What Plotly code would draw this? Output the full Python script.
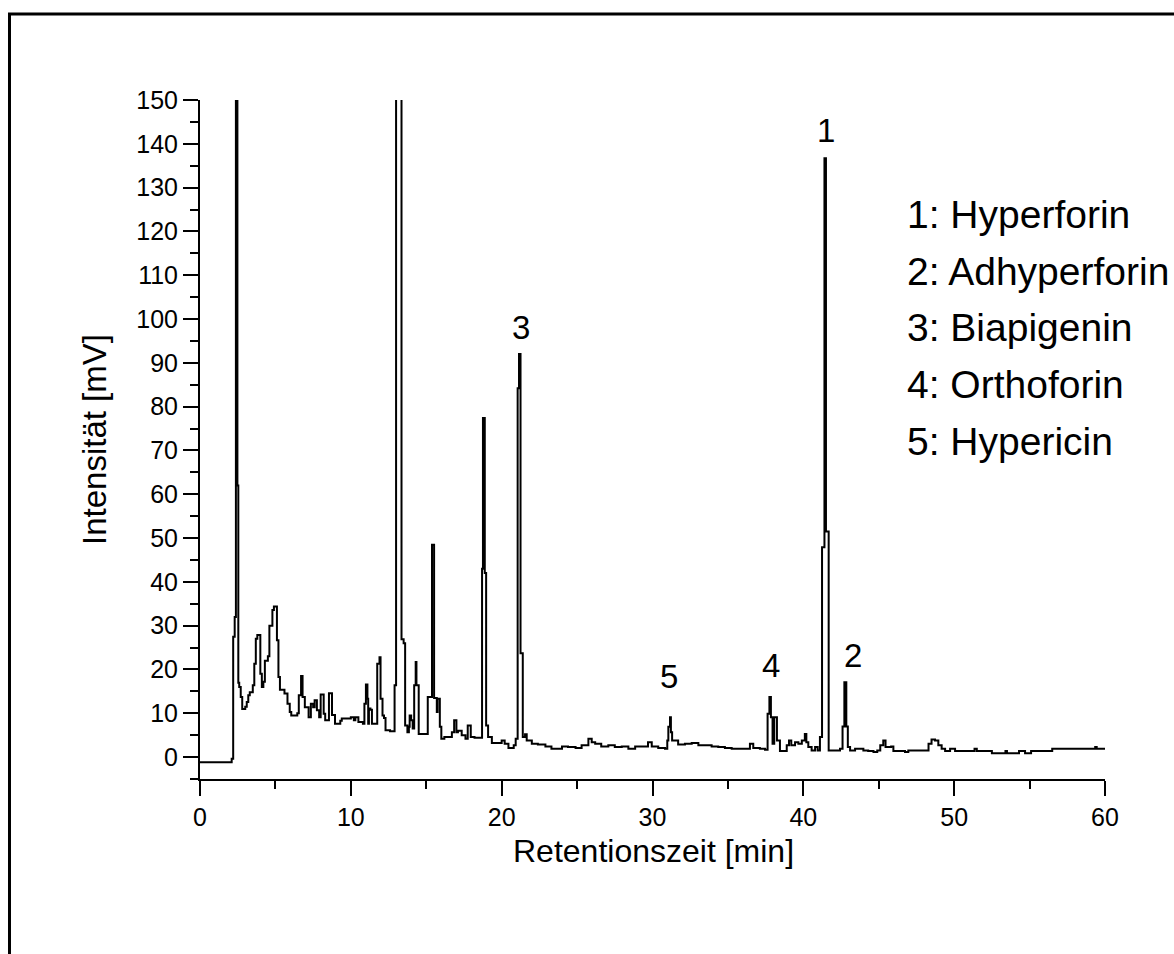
import plotly.graph_objects as go

# Retention time [min] and intensity [mV]
rt = [0.0, 2.1, 2.2, 2.3, 2.38, 2.48, 2.54, 2.6, 2.7, 2.8, 3.0, 3.1, 3.2, 3.3, 3.5, 3.6, 3.7, 3.8,
      4.0, 4.1, 4.2, 4.3, 4.5, 4.6, 4.8, 4.9, 5.1, 5.2, 5.3, 5.6, 5.8, 5.95, 6.05, 6.45, 6.55, 6.7,
      6.8, 6.95, 7.2, 7.35, 7.5, 7.6, 7.75, 7.9, 8.0, 8.2, 8.3, 8.55, 8.75, 8.95, 9.3, 9.4, 10.0,
      10.2, 10.3, 10.5, 10.8, 10.9, 11.0, 11.1, 11.15, 11.2, 11.3, 11.4, 11.75, 11.9, 11.97, 12.1,
      12.2, 12.3, 12.6, 12.9, 13.0, 13.36, 13.5, 13.6, 13.75, 13.85, 13.9, 14.0, 14.1, 14.2, 14.3,
      14.35, 14.5, 15.1, 15.38, 15.52, 15.7, 15.75, 15.9, 16.0, 16.2, 16.7, 16.85, 17.0, 17.1,
      17.35, 17.6, 17.75, 17.95, 18.2, 18.7, 18.76, 18.88, 18.97, 19.1, 19.35, 20.0, 20.2, 20.45,
      20.8, 20.93, 21.06, 21.15, 21.25, 21.4, 21.55, 21.66, 22.0, 22.4, 22.9, 23.3, 24.0, 24.4,
      24.9, 25.3, 25.75, 25.97, 26.2, 26.6, 27.07, 27.5, 27.96, 28.4, 28.85, 29.7, 29.95, 30.38,
      30.83, 30.98, 31.05, 31.16, 31.22, 31.3, 31.7, 32.15, 32.6, 33.04, 33.92, 34.36, 34.8,
      35.25, 36.46, 36.68, 37.12, 37.46, 37.63, 37.75, 37.85, 37.96, 38.07, 38.25, 38.45, 38.9,
      39.05, 39.2, 39.45, 39.67, 39.9, 40.1, 40.2, 40.33, 40.55, 40.78, 40.95, 41.1, 41.24, 41.4,
      41.5, 41.68, 42.43, 42.6, 42.72, 42.85, 42.95, 43.1, 43.43, 43.98, 44.3, 44.65, 44.9, 45.1,
      45.3, 45.45, 45.82, 45.97, 46.74, 46.96, 48.3, 48.5, 48.73, 48.95, 49.17, 49.4, 49.73,
      50.06, 51.35, 51.5, 52.5, 53.4, 53.5, 54.3, 54.7, 55.1, 56.5, 59.35, 59.45, 60.0]
intensity = [-1.2, -0.4, 27.5, 32, 400, 62, 17, 16, 13.7, 11, 11.5, 12.6, 14.1, 14.8, 16.4, 21.3, 27, 27.9,
             19, 16, 17.2, 22, 23, 30, 33.6, 34.4, 26.7, 18.3, 15.4, 14.5, 12.2, 10.3, 9.5, 10, 14.1, 18.5,
             13.7, 11.4, 9.1, 12.2, 11.4, 13, 10.7, 9.1, 14.3, 9.9, 8.4, 14.6, 9.6, 7.6, 8.3, 8.8, 9.1,
             8.4, 9.1, 8.0, 7.6, 12.2, 16.6, 13.3, 7.6, 11.1, 10.8, 7.6, 21.3, 22.8, 13.3, 9.5,
             8.9, 6.1, 5.9, 16.4, 400, 26.9, 26, 7.2, 5.7, 6.9, 9.5, 8.4, 6.5, 16.4, 21.7,
             16.4, 5.3, 13.7, 48.5, 13.5, 10.3, 13.3, 6.9, 4.2, 4.6, 5.7, 8.4, 5.7, 6.0,
             5.0, 4.2, 7.2, 4.6, 4.4, 43, 77.4, 42, 7.2, 4.6, 3.2, 3.8, 3.05, 2.1,
             2.7, 4.2, 84.2, 92, 23.7, 4.6, 5.2, 3.8, 3.05, 2.9, 2.4, 1.9, 2.4, 2.3,
             2.1, 2.7, 4.2, 3.4, 3.05, 2.4, 2.7, 2.3, 2.4, 1.9, 2.4, 3.4, 2.4, 2.1,
             1.9, 3.8, 6.9, 9.1, 5.7, 3.8, 2.9, 3.05, 3.2, 2.7, 2.4, 2.3, 2.1,
             1.9, 3.05, 2.1, 1.9, 1.7, 9.9, 13.7, 9.1, 3.05, 9.1, 3.8, 1.4, 2.7,
             3.8, 2.7, 3.4, 3.05, 3.8, 5.3, 3.4, 2.3, 1.5, 2.3, 1.5, 4.6, 47.9, 136.7,
             51.5, 1.5, 1.9, 7.0, 17.1, 7.0, 2.3, 1.5, 1.9, 1.5, 1.4, 1.15, 1.5, 2.7,
             3.8, 2.3, 2.4, 1.4, 1.15, 1.5, 3.05, 4.0, 3.8, 2.7, 1.9, 1.4, 1.9,
             1.4, 1.9, 1.4, 0.9, 1.4, 0.9, 1.4, 0.9, 1.4, 1.9, 2.3, 1.9, 1.9]

# Peak labels
peak_ids = ["1", "2", "3", "4", "5"]
peak_x = [41.5, 43.3, 21.3, 37.86, 31.1]
peak_y = [143, 23.2, 98, 21, 18.4]

# Compound key
compounds = ["1: Hyperforin", "2: Adhyperforin", "3: Biapigenin", "4: Orthoforin", "5: Hypericin"]
key_y = [123.9, 110.9, 98.1, 85.1, 72.1]
key_x = 46.74

FONT = "Liberation Sans, Arial, sans-serif"

fig = go.Figure()
fig.add_trace(go.Scatter(x=rt, y=intensity, mode="lines", line=dict(color="black", width=2, shape="hv"),
                         hoverinfo="skip", showlegend=False))

annotations = []
for pid, px, py in zip(peak_ids, peak_x, peak_y):
    annotations.append(dict(x=px, y=py, text=pid, showarrow=False, xref="x", yref="y",
                            font=dict(family=FONT, size=33, color="black")))
for txt, ky in zip(compounds, key_y):
    annotations.append(dict(x=key_x, y=ky, text=txt, showarrow=False, xref="x", yref="y",
                            xanchor="left", yanchor="middle",
                            font=dict(family=FONT, size=39, color="black")))
# x-axis title placed below the tick labels
annotations.append(dict(x=0.5006, y=-0.106, xref="paper", yref="paper", text="Retentionszeit [min]",
                        showarrow=False, xanchor="center", yanchor="middle",
                        font=dict(family=FONT, size=32, color="black")))

axis_common = dict(showline=True, linecolor="black", linewidth=2, ticks="outside", ticklen=15,
                   tickwidth=2, tickcolor="black", showgrid=False, zeroline=False,
                   tickfont=dict(family=FONT, size=25, color="black"))

fig.update_layout(
    width=1174, height=954,
    margin=dict(l=200, r=69, t=100, b=175),
    paper_bgcolor="white", plot_bgcolor="white",
    annotations=annotations,
    xaxis=dict(range=[0, 60], dtick=10, tick0=0,
               minor=dict(ticks="outside", ticklen=8, dtick=5, tickwidth=2, tickcolor="black"),
               **axis_common),
    yaxis=dict(range=[-5, 150], dtick=10, tick0=0,
               minor=dict(ticks="outside", ticklen=8, dtick=5, tickwidth=2, tickcolor="black"),
               title=dict(text="Intensität [mV]", standoff=20,
                          font=dict(family=FONT, size=33, color="black")),
               **axis_common),
    shapes=[dict(type="rect", xref="paper", yref="paper", x0=-0.2105, x1=1.2, y0=-0.4, y1=1.1267,
                 line=dict(color="black", width=3), fillcolor="rgba(0,0,0,0)", layer="above")],
)

fig.write_html("out.html")
